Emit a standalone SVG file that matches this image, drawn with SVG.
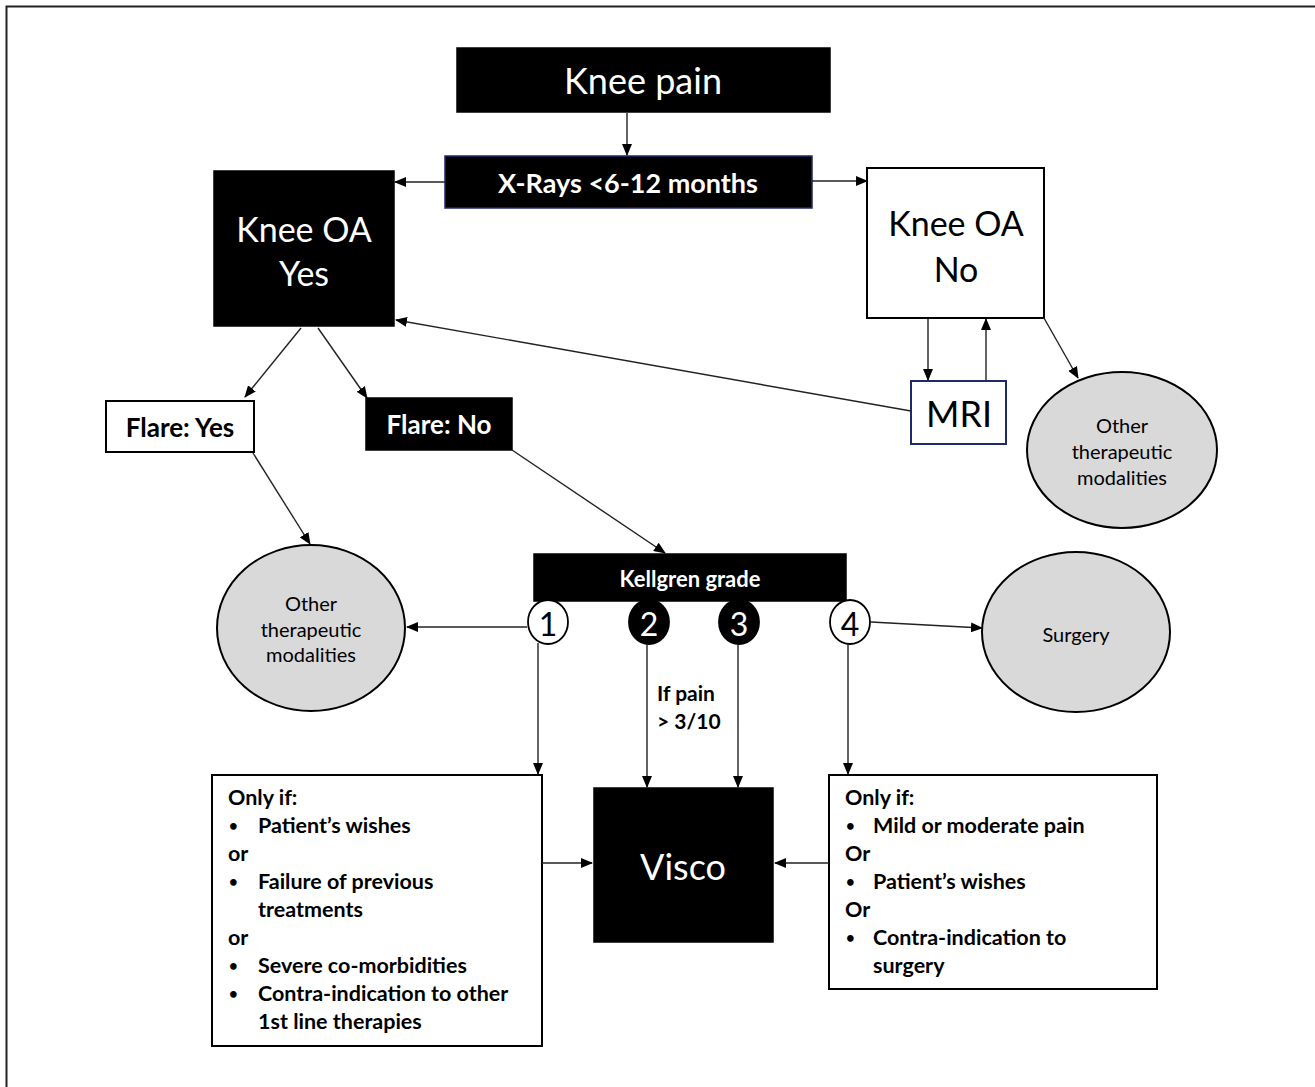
<svg xmlns="http://www.w3.org/2000/svg" width="1315" height="1087" viewBox="0 0 1315 1087">
<defs>
<marker id="ah" markerUnits="userSpaceOnUse" markerWidth="12" markerHeight="10" refX="11" refY="5" orient="auto">
<path d="M0,0 L12,5 L0,10 Z" fill="#000"/>
</marker>
</defs>
<style>
text{font-family:Lato,"Open Sans","Liberation Sans",sans-serif;text-anchor:middle;dominant-baseline:central}
.blk{fill:#000;stroke:#000;stroke-width:1.5}
.wht{fill:#fff;stroke:#000;stroke-width:2}
.nav{stroke:#1f2a6b}
.ell{fill:#d9d9d9;stroke:#000;stroke-width:2}
.w{fill:#fff}
.b{fill:#000}
.bold{font-weight:bold}
.big{font-size:34px}
.sm{font-size:20px}
.lst{font-size:21.5px;font-weight:bold;text-anchor:start}
.bul{font-size:15px;font-weight:bold;text-anchor:start}
.conn line{stroke:#222;stroke-width:1.4;marker-end:url(#ah)}
</style>
<path d="M6.5,1087 V6.5 H1315" fill="none" stroke="#222" stroke-width="2"/>

<g id="knee-pain"><rect class="blk" x="457" y="48" width="373" height="64"/><text class="w" x="643" y="80" font-size="36">Knee pain</text></g>
<g id="xrays"><rect class="blk nav" x="445" y="156" width="367" height="52"/><text class="w bold" x="628" y="182" font-size="27">X-Rays &lt;6-12 months</text></g>
<g id="oa-yes"><rect class="blk" x="214" y="171" width="180" height="155"/><text class="w big" x="304" y="228">Knee OA</text><text class="w big" x="304" y="272">Yes</text></g>
<g id="oa-no"><rect class="wht" x="867" y="168" width="177" height="150"/><text class="b big" x="956" y="222">Knee OA</text><text class="b big" x="956" y="268">No</text></g>
<g id="mri"><rect class="wht nav" x="911" y="381" width="95" height="63"/><text class="b" x="959" y="413" font-size="36">MRI</text></g>
<g id="other-right"><ellipse class="ell" cx="1122" cy="450" rx="95" ry="78"/><text class="b sm" x="1122" y="425">Other</text><text class="b sm" x="1122" y="451">therapeutic</text><text class="b sm" x="1122" y="477">modalities</text></g>
<g id="flare-yes"><rect class="wht" x="106" y="401" width="148" height="51"/><text class="b bold" x="180" y="427" font-size="26">Flare: Yes</text></g>
<g id="flare-no"><rect class="blk" x="366" y="398" width="146" height="52"/><text class="w bold" x="439" y="424" font-size="26">Flare: No</text></g>
<g id="other-left"><ellipse class="ell" cx="311" cy="628" rx="94" ry="83"/><text class="b sm" x="311" y="603">Other</text><text class="b sm" x="311" y="629">therapeutic</text><text class="b sm" x="311" y="654">modalities</text></g>
<g id="kellgren"><rect class="blk" x="534" y="554" width="312" height="47"/><text class="w bold" x="690" y="578" font-size="22">Kellgren grade</text></g>
<g id="g1"><ellipse cx="548" cy="622" rx="20" ry="22" fill="#fff" stroke="#000" stroke-width="1.8"/><text class="b" x="548" y="623" font-size="32">1</text></g>
<g id="g2"><ellipse cx="649" cy="622" rx="20" ry="22" fill="#000" stroke="#000" stroke-width="1.8"/><text class="w" x="649" y="623" font-size="32">2</text></g>
<g id="g3"><ellipse cx="739" cy="622" rx="20" ry="22" fill="#000" stroke="#000" stroke-width="1.8"/><text class="w" x="739" y="623" font-size="32">3</text></g>
<g id="g4"><ellipse cx="850" cy="622" rx="20" ry="22" fill="#fff" stroke="#000" stroke-width="1.8"/><text class="b" x="850" y="623" font-size="32">4</text></g>
<g id="surgery"><ellipse class="ell" cx="1076" cy="632" rx="94" ry="80"/><text class="b sm" x="1076" y="634">Surgery</text></g>
<g id="pain-label"><text class="b bold" x="657" y="692" font-size="21" style="text-anchor:start">If pain</text><text class="b bold" x="657" y="720" font-size="21" style="text-anchor:start">&gt; 3/10</text></g>
<g id="visco"><rect class="blk" x="594" y="788" width="179" height="154"/><text class="w" x="683" y="866" font-size="36">Visco</text></g>
<g id="left-box"><rect class="wht" x="212" y="775" width="330" height="271" stroke-width="1.8"/>
<text class="lst" x="228" y="797">Only if:</text>
<text class="bul" x="229" y="825">•</text><text class="lst" x="258" y="825">Patient’s wishes</text>
<text class="lst" x="228" y="853">or</text>
<text class="bul" x="229" y="881">•</text><text class="lst" x="258" y="881">Failure of previous</text>
<text class="lst" x="258" y="909">treatments</text>
<text class="lst" x="228" y="937">or</text>
<text class="bul" x="229" y="965">•</text><text class="lst" x="258" y="965">Severe co-morbidities</text>
<text class="bul" x="229" y="993">•</text><text class="lst" x="258" y="993">Contra-indication to other</text>
<text class="lst" x="258" y="1021">1st line therapies</text>
</g>
<g id="right-box"><rect class="wht" x="829" y="775" width="328" height="214" stroke-width="1.8"/>
<text class="lst" x="845" y="797">Only if:</text>
<text class="bul" x="846" y="825">•</text><text class="lst" x="873" y="825">Mild or moderate pain</text>
<text class="lst" x="845" y="853">Or</text>
<text class="bul" x="846" y="881">•</text><text class="lst" x="873" y="881">Patient’s wishes</text>
<text class="lst" x="845" y="909">Or</text>
<text class="bul" x="846" y="937">•</text><text class="lst" x="873" y="937">Contra-indication to</text>
<text class="lst" x="873" y="965">surgery</text>
</g>

<g id="connectors" class="conn">
<line x1="627" y1="113" x2="627" y2="155"/>
<line x1="445" y1="182" x2="395" y2="182"/>
<line x1="812" y1="181" x2="867" y2="181"/>
<line x1="301" y1="328" x2="245" y2="397"/>
<line x1="318" y1="328" x2="367" y2="398"/>
<line x1="253" y1="453" x2="310" y2="544"/>
<line x1="512" y1="450" x2="665" y2="553"/>
<line x1="911" y1="411" x2="396" y2="320"/>
<line x1="928" y1="319" x2="928" y2="380"/>
<line x1="986" y1="380" x2="986" y2="319"/>
<line x1="1044" y1="318" x2="1078" y2="378"/>
<line x1="527" y1="627" x2="407" y2="627"/>
<line x1="871" y1="622" x2="982" y2="628"/>
<line x1="538" y1="643" x2="538" y2="774"/>
<line x1="647" y1="644" x2="647" y2="787"/>
<line x1="738" y1="644" x2="738" y2="787"/>
<line x1="848" y1="644" x2="848" y2="774"/>
<line x1="542" y1="863" x2="592" y2="863"/>
<line x1="829" y1="863" x2="775" y2="863"/>
</g>
</svg>
